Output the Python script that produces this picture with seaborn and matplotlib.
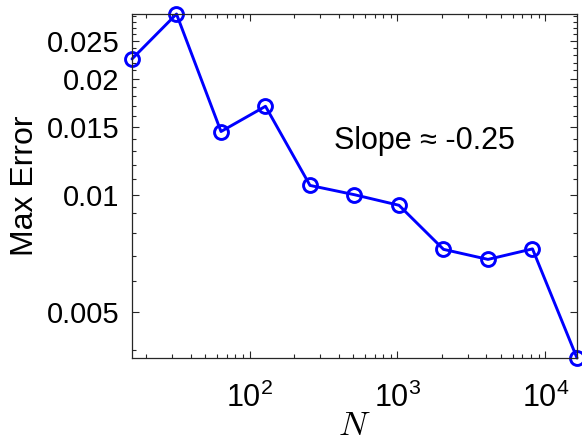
import matplotlib
matplotlib.use('Agg')
import matplotlib.pyplot as plt
import matplotlib.ticker as mticker
import numpy as np
import pandas as pd
import seaborn as sns

# Data
n_values = [16, 32, 64, 128, 256, 512, 1024, 2048, 4096, 8192, 16384]
max_error = [0.02247, 0.02934, 0.01461, 0.01697, 0.01061, 0.01004,
             0.00943, 0.00726, 0.00684, 0.00728, 0.00381]
y_tick_values = [0.005, 0.01, 0.015, 0.02, 0.025]
y_tick_labels = ['0.005', '0.01', '0.015', '0.02', '0.025']

df = pd.DataFrame({'N': n_values, 'err': max_error})

sns.set_theme(style='ticks')
plt.rcParams['font.family'] = ['Liberation Sans', 'DejaVu Sans']
plt.rcParams['mathtext.fontset'] = 'cm'
plt.rcParams['text.color'] = 'black'
plt.rcParams['axes.labelcolor'] = 'black'

fig = plt.figure(figsize=(5.82, 4.45), dpi=100)
ax = fig.add_axes([0.2268, 0.1955, 0.7646, 0.773])

sns.lineplot(data=df, x='N', y='err', ax=ax, color='#0000ff', linewidth=2.1,
             marker='o', markersize=10, markerfacecolor='none',
             markeredgecolor='#0000ff', markeredgewidth=2.1, clip_on=False)

ax.set_xscale('log')
ax.set_yscale('log')
ax.set_xlim(n_values[0], n_values[-1])
ax.set_ylim(min(max_error), max(max_error))

ax.yaxis.set_major_locator(mticker.FixedLocator(y_tick_values))
ax.yaxis.set_major_formatter(mticker.FixedFormatter(y_tick_labels))
ax.yaxis.set_minor_locator(mticker.FixedLocator(np.arange(0.004, 0.0295, 0.001)))
ax.yaxis.set_minor_formatter(mticker.NullFormatter())
ax.xaxis.set_major_locator(mticker.LogLocator(base=10))
ax.xaxis.set_minor_locator(mticker.LogLocator(base=10, subs=np.arange(2, 10)))
ax.xaxis.set_minor_formatter(mticker.NullFormatter())

for s in ax.spines.values():
    s.set_linewidth(0.9)
    s.set_color('#262626')
ax.tick_params(which='both', direction='in', top=True, right=True,
               color='#262626', width=0.8, labelcolor='black')
ax.tick_params(which='major', length=5)
ax.tick_params(which='minor', length=3)
ax.tick_params(axis='y', which='major', pad=9, labelsize=21)
ax.tick_params(axis='x', which='major', pad=18, labelsize=22)

ax.set_xlabel('$N$', fontsize=25, labelpad=-4)
ax.set_ylabel('Max Error', fontsize=23, labelpad=5)

ax.text(1528, 0.01385, 'Slope \u2248 -0.25', fontsize=22, ha='center', va='center')

fig.savefig('out.png', dpi=100)
plt.close()
